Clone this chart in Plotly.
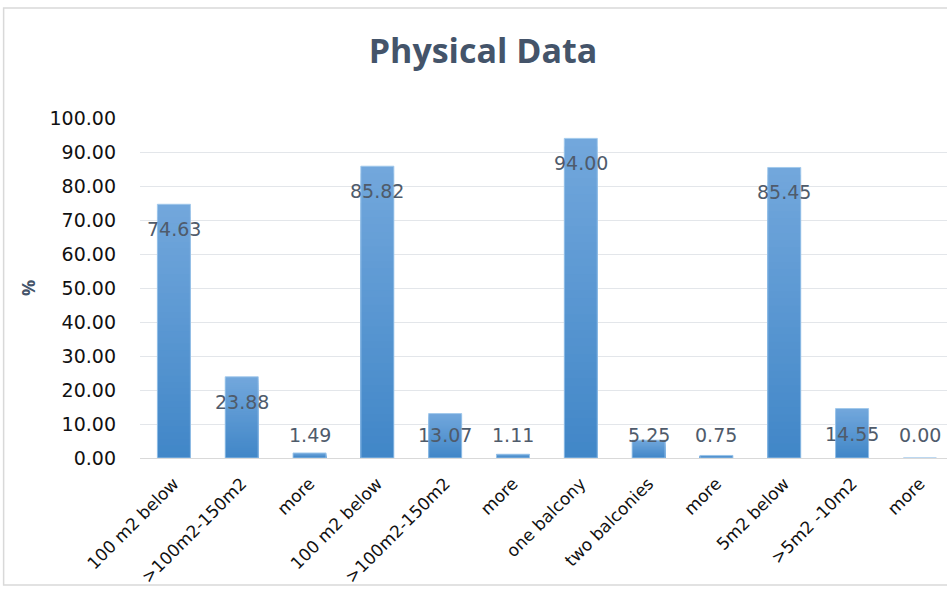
import plotly.graph_objects as go

categories = ["100 m2 below", ">100m2-150m2", "more", "100 m2 below", ">100m2-150m2", "more",
              "one balcony", "two balconies", "more", "5m2 below", ">5m2 -10m2", "more"]
values = [74.63, 23.88, 1.49, 85.82, 13.07, 1.11, 94.00, 5.25, 0.75, 85.45, 14.55, 0.00]
y_ticks = [0, 10, 20, 30, 40, 50, 60, 70, 80, 90, 100]
y_tick_labels = [f"{t:.2f}" for t in y_ticks]

x = list(range(len(categories)))

top_rgb = (0x72, 0xA7, 0xDC)
bot_rgb = (0x40, 0x86, 0xC7)
N = 40

fig = go.Figure()
# gradient: overlapping bars, each shorter and darker than the previous
for k in range(N):
    f = 1 - k / N  # 1 top -> 0 bottom
    c = tuple(int(round(b + (t - b) * f)) for t, b in zip(top_rgb, bot_rgb))
    fig.add_trace(go.Bar(
        x=x,
        y=[v * (N - k) / N for v in values],
        marker=dict(color=f"rgb{c}", line=dict(width=0)),
        width=0.487,
        hoverinfo="skip",
        showlegend=False,
    ))
# thin light outline like the Excel bars
fig.add_trace(go.Bar(
    x=x, y=values, width=0.487,
    marker=dict(color="rgba(0,0,0,0)", line=dict(width=1, color="rgba(160,200,235,0.9)")),
    showlegend=False, hoverinfo="skip",
))

annotations = []
for xi, v in zip(x, values):
    annotations.append(dict(
        x=xi, y=max(v, 14.1), xref="x", yref="y",
        text=f"{v:.2f}", showarrow=False, yshift=-25,
        font=dict(family="DejaVu Sans", size=19, color="#4F5B6B"),
    ))

fig.update_layout(
    barmode="overlay",
    width=947, height=599,
    margin=dict(l=140, r=0, t=118, b=141),
    paper_bgcolor="white",
    plot_bgcolor="white",
    title=dict(text="<b>Physical Data</b>", x=0.51, xref="container", xanchor="center",
               y=0.915, yanchor="middle",
               font=dict(family="Open Sans", size=34, color="#44546A")),
    annotations=annotations,
    shapes=[dict(type="rect", xref="paper", yref="paper",
                 x0=-0.169, x1=1.2, y0=-(585 - 458) / 340, y1=1 + (118 - 8) / 340,
                 line=dict(color="#D9D9D9", width=1.5), fillcolor="rgba(0,0,0,0)", layer="below")],
)
fig.update_xaxes(
    range=[-0.5, 11.4],
    tickmode="array", tickvals=x, ticktext=categories,
    tickangle=-45,
    tickfont=dict(family="DejaVu Sans", size=17, color="#111111"),
    ticklabelstandoff=8,
    showgrid=False, showline=True, linecolor="#D9D9D9", linewidth=1,
    ticks="", zeroline=False,
)
fig.update_yaxes(
    range=[0, 100],
    tickmode="array", tickvals=y_ticks, ticktext=y_tick_labels,
    tickfont=dict(family="DejaVu Sans", size=19, color="#111111"),
    showgrid=True, gridcolor="#E3E6EA", gridwidth=1,
    zeroline=False, showline=False, ticks="", ticklabelstandoff=23,
    title=dict(text="<b>%</b>", font=dict(family="Open Sans", size=18, color="#44546A"), standoff=9),
)

fig.write_html("out.html")
